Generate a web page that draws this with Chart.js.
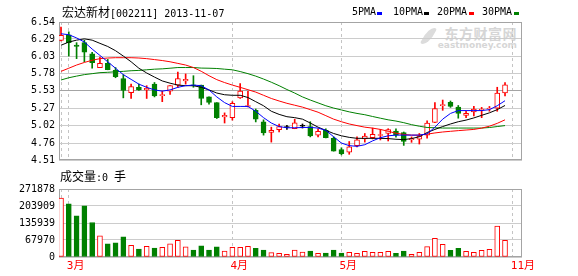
<!DOCTYPE html>
<html lang="zh">
<head>
<meta charset="UTF-8">
<title>宏达新材 日K</title>
<style>
  body {
    margin: 0;
    width: 578px;
    height: 276px;
    background: #fff;
    position: relative;
    overflow: hidden;
    font-family: "DejaVu Sans Mono", monospace;
    font-size: 10px;
    color: #000;
  }
  .cn { font-family: "Noto Sans CJK SC", sans-serif; font-size: 12px; }
  .txt { position: absolute; white-space: nowrap; line-height: 14px; }
  .sw { position: absolute; width: 5px; height: 3px; top: 12px; }
  #watermark { position: absolute; right: 61px; top: 25px; color: #d6d6d6; font-weight: bold; text-align: right; }
  #watermark .big { font-family: "Noto Sans CJK SC", sans-serif; font-size: 14px; line-height: 16px; letter-spacing: 0.5px; }
  #watermark .small { font-family: "DejaVu Sans", sans-serif; font-size: 9px; line-height: 9px; }
  #logo { position: absolute; left: 424px; top: 26px; width: 9px; height: 20px; background: #dcdcdc;
          border-radius: 90% 10% 90% 10%; transform: rotate(25deg); }
  canvas { position: absolute; left: 0; }
  #priceChart { top: 0; }
  #volChart { top: 170px; }
</style>
<script src="https://cdn.jsdelivr.net/npm/chart.js@4"></script>
</head>
<body>
<div id="logo"></div>
<div id="watermark"><div class="big">东方财富网</div><div class="small">eastmoney.com</div></div>
<canvas id="priceChart" width="578" height="170"></canvas>
<canvas id="volChart" width="578" height="106"></canvas>

<div class="txt" style="left:62px; top:5px;"><span class="cn">宏达新材</span>[002211] 2013-11-07</div>
<div class="txt" style="left:352px; top:5px;">5PMA</div><div class="sw" style="left:377px; background:#0000ff;"></div>
<div class="txt" style="left:393px; top:5px;">10PMA</div><div class="sw" style="left:424px; background:#000000;"></div>
<div class="txt" style="left:437px; top:5px;">20PMA</div><div class="sw" style="left:469px; background:#ff0000;"></div>
<div class="txt" style="left:482px; top:5px;">30PMA</div><div class="sw" style="left:514px; background:#008000;"></div>
<div class="txt" style="left:60px; top:169px;"><span class="cn">成交量</span>:0 <span class="cn">手</span></div>

<script>
// daily candles
const opens  = [6.268, 6.353, 6.202, 6.236, 6.072, 5.870, 5.931, 5.828, 5.706, 5.499,
                5.579, 5.541, 5.626, 5.458, 5.523, 5.612, 5.674, 5.610, 5.612, 5.438,
                5.354, 5.143, 5.133, 5.424, 5.297, 5.241, 5.073, 4.914, 4.956, 4.988,
                4.970, 5.007, 5.002, 4.876, 4.946, 4.829, 4.665, 4.627, 4.721, 4.820,
                4.840, 4.870, 4.900, 4.936, 4.914, 4.810, 4.815, 4.876, 5.063, 5.310,
                5.358, 5.288, 5.167, 5.218, 5.245, 5.260, 5.274, 5.495];
const highs  = [6.465, 6.395, 6.236, 6.273, 6.095, 6.025, 5.990, 5.870, 5.766, 5.626,
                5.626, 5.603, 5.650, 5.523, 5.603, 5.804, 5.776, 5.750, 5.612, 5.440,
                5.354, 5.203, 5.368, 5.635, 5.520, 5.260, 5.101, 4.993, 5.040, 5.020,
                5.110, 5.040, 5.073, 4.970, 4.970, 4.850, 4.690, 4.782, 4.850, 4.900,
                4.980, 4.960, 4.970, 4.970, 4.922, 4.850, 4.900, 5.087, 5.354, 5.392,
                5.378, 5.312, 5.227, 5.298, 5.284, 5.298, 5.580, 5.650];
const lows   = [6.260, 6.039, 6.001, 5.955, 5.860, 5.870, 5.837, 5.720, 5.424, 5.415,
                5.535, 5.415, 5.438, 5.368, 5.476, 5.579, 5.626, 5.580, 5.322, 5.330,
                5.120, 5.054, 5.097, 5.415, 5.290, 5.070, 4.876, 4.773, 4.922, 4.960,
                4.970, 4.980, 4.850, 4.850, 4.835, 4.640, 4.585, 4.594, 4.703, 4.773,
                4.820, 4.805, 4.790, 4.845, 4.725, 4.770, 4.745, 4.830, 5.060, 5.241,
                5.284, 5.125, 5.133, 5.157, 5.133, 5.227, 5.227, 5.453];
const closes = [6.343, 6.236, 6.180, 6.095, 5.940, 5.931, 5.837, 5.734, 5.533, 5.589,
                5.541, 5.565, 5.453, 5.470, 5.603, 5.706, 5.696, 5.600, 5.415, 5.358,
                5.133, 5.167, 5.344, 5.523, 5.310, 5.110, 4.908, 4.946, 5.002, 4.988,
                5.055, 5.007, 4.866, 4.932, 4.838, 4.640, 4.604, 4.703, 4.806, 4.862,
                4.886, 4.876, 4.956, 4.876, 4.782, 4.815, 4.862, 5.054, 5.265, 5.315,
                5.298, 5.195, 5.195, 5.260, 5.250, 5.265, 5.494, 5.617];

// moving averages as drawn
const ma5  = [6.367, 6.353, 6.306, 6.245, 6.142, 6.048, 5.955, 5.860, 5.766, 5.696,
              5.626, 5.579, 5.541, 5.523, 5.541, 5.579, 5.603, 5.612, 5.603, 5.540,
              5.438, 5.354, 5.298, 5.298, 5.298, 5.227, 5.133, 5.054, 5.002, 4.984,
              4.984, 4.988, 4.990, 4.979, 4.946, 4.852, 4.759, 4.721, 4.711, 4.735,
              4.791, 4.838, 4.866, 4.876, 4.876, 4.876, 4.876, 4.894, 4.993, 5.111,
              5.195, 5.237, 5.237, 5.237, 5.237, 5.251, 5.308, 5.382];
const ma10 = [6.198, 6.245, 6.273, 6.292, 6.273, 6.226, 6.180, 6.118, 6.039, 5.955,
              5.860, 5.790, 5.730, 5.673, 5.640, 5.612, 5.603, 5.603, 5.579, 5.541,
              5.495, 5.470, 5.462, 5.462, 5.429, 5.368, 5.308, 5.227, 5.181, 5.147,
              5.133, 5.111, 5.054, 4.993, 4.946, 4.900, 4.866, 4.843, 4.829, 4.829,
              4.829, 4.829, 4.825, 4.815, 4.810, 4.825, 4.852, 4.914, 4.960, 5.002,
              5.040, 5.073, 5.097, 5.129, 5.167, 5.204, 5.251, 5.312];
const ma20 = [5.814, 5.860, 5.907, 5.945, 5.977, 6.001, 6.010, 6.015, 6.015, 6.015,
              6.010, 6.001, 5.987, 5.973, 5.955, 5.931, 5.907, 5.870, 5.815, 5.750,
              5.692, 5.649, 5.612, 5.579, 5.544, 5.509, 5.462, 5.415, 5.378, 5.344,
              5.316, 5.288, 5.251, 5.213, 5.162, 5.111, 5.073, 5.040, 5.016, 4.993,
              4.979, 4.960, 4.932, 4.904, 4.886, 4.876, 4.876, 4.890, 4.908, 4.922,
              4.932, 4.942, 4.951, 4.960, 4.979, 5.007, 5.049, 5.101];
const ma30 = [5.687, 5.720, 5.744, 5.766, 5.780, 5.795, 5.800, 5.808, 5.814, 5.823,
              5.828, 5.837, 5.846, 5.851, 5.860, 5.870, 5.870, 5.870, 5.862, 5.860,
              5.856, 5.846, 5.837, 5.811, 5.780, 5.744, 5.701, 5.654, 5.603, 5.547,
              5.495, 5.438, 5.392, 5.350, 5.308, 5.274, 5.246, 5.218, 5.195, 5.176,
              5.150, 5.125, 5.101, 5.083, 5.059, 5.030, 5.007, 4.988, 4.984, 4.980,
              4.980, 4.980, 4.980, 4.980, 4.980, 4.988, 5.002, 5.016];

const volumes = [235700, 212800, 164700, 204800, 137800, 84300, 52200, 56200, 80300, 46900,
                 32100, 42800, 36100, 38800, 52200, 67000, 40200, 28100, 44200, 28100,
                 40200, 24100, 38800, 38800, 42800, 34800, 28100, 17400, 14700, 10700,
                 28100, 20100, 24100, 14700, 16100, 28100, 16100, 18700, 14700, 22800,
                 18700, 18700, 22800, 14700, 24100, 10700, 18700, 41400, 75100, 51000,
                 26900, 34800, 22800, 18700, 26900, 30900, 123300, 67000];

const priceTicks  = [4.51, 4.76, 5.02, 5.27, 5.53, 5.78, 6.03, 6.29, 6.54];
const volumeTicks = [0, 67970, 135939, 203909, 271878];
const monthTicks  = [1, 22, 36, 58];
const monthLabels = ['3月', '4月', '5月', '11月'];
const gridMarks   = [0].concat(monthTicks);

const UP = '#ff0000', DOWN = '#008000', FLAT = '#000000';
const idx = closes.map((c, i) => i);
const colorOf = i => closes[i] > opens[i] ? UP : (closes[i] < opens[i] ? DOWN : FLAT);

const X_MIN = -0.257, X_MAX = 59.18;
const monoFont = { family: 'DejaVu Sans Mono', size: 10 };

const framePlugin = {
  id: 'frame',
  beforeDatasetsDraw(chart) {
    const a = chart.chartArea, ctx = chart.ctx;
    ctx.save();
    ctx.strokeStyle = '#a4a4a4';
    ctx.lineWidth = 1;
    ctx.strokeRect(Math.round(a.left) + 0.5, Math.round(a.top) + 0.5,
                   Math.round(a.right - a.left) - 1, Math.round(a.bottom - a.top) - 1);
    ctx.restore();
  }
};

function xAxis(showLabels) {
  return {
    type: 'linear',
    min: X_MIN,
    max: X_MAX,
    offset: false,
    afterBuildTicks: s => { s.ticks = gridMarks.map(v => ({ value: v })); },
    afterFit: s => { s.height = showLabels ? 19 : 0; },
    grid: { color: '#c4c4c4', drawTicks: false, offset: false },
    border: { display: false, dash: [3, 3] },
    ticks: {
      display: showLabels,
      autoSkip: false,
      minRotation: 0,
      maxRotation: 0,
      align: 'start',
      labelOffset: -2,
      padding: 3,
      color: UP,
      font: { family: 'DejaVu Sans Mono, Noto Sans CJK SC', size: 11 },
      callback: v => {
        const k = monthTicks.indexOf(v);
        return k >= 0 ? monthLabels[k] : '';
      }
    }
  };
}

const maLine = (vals, color) => ({
  type: 'line',
  data: idx.map(i => ({ x: i, y: vals[i] })),
  borderColor: color,
  borderWidth: 1,
  pointRadius: 0,
  tension: 0,
  order: 0
});

new Chart(document.getElementById('priceChart'), {
  type: 'bar',
  data: {
    datasets: [
      maLine(ma5, '#0000ff'),
      maLine(ma10, '#000000'),
      maLine(ma20, '#ff0000'),
      maLine(ma30, '#008000'),
      {
        // bodies
        data: idx.map(i => ({ x: i, y: [opens[i], closes[i]] })),
        backgroundColor: idx.map(i => closes[i] > opens[i] ? '#ffffff' : colorOf(i)),
        borderColor: idx.map(colorOf),
        borderWidth: 1,
        borderSkipped: false,
        barThickness: 5,
        minBarLength: 1,
        grouped: false,
        order: 1
      },
      {
        // wicks
        data: idx.map(i => ({ x: i, y: [lows[i], highs[i]] })),
        backgroundColor: idx.map(colorOf),
        borderWidth: 0,
        barThickness: 1,
        grouped: false,
        order: 2
      }
    ]
  },
  options: {
    responsive: false,
    animation: false,
    layout: { padding: { top: 22, right: 56, bottom: 4, left: 0 } },
    plugins: { legend: { display: false }, tooltip: { enabled: false } },
    scales: {
      x: xAxis(false),
      y: {
        min: priceTicks[0],
        max: priceTicks[priceTicks.length - 1],
        afterBuildTicks: s => { s.ticks = priceTicks.map(v => ({ value: v })); },
        afterFit: s => { s.width = 59; },
        grid: {
          drawTicks: false,
          color: c => (c.tick && c.tick.value === 5.53) ? '#a4a4a4' : '#cccccc'
        },
        border: { display: false },
        ticks: { padding: 4, color: '#000', font: monoFont, callback: v => v.toFixed(2) }
      }
    }
  },
  plugins: [framePlugin]
});

new Chart(document.getElementById('volChart'), {
  type: 'bar',
  data: {
    datasets: [{
      data: idx.map(i => ({ x: i, y: volumes[i] })),
      backgroundColor: idx.map(i => closes[i] >= opens[i] ? '#ffffff' : DOWN),
      borderColor: idx.map(i => closes[i] >= opens[i] ? UP : DOWN),
      borderWidth: 1,
      borderSkipped: false,
      barThickness: 5
    }]
  },
  options: {
    responsive: false,
    animation: false,
    layout: { padding: { top: 19, right: 56, bottom: 0, left: 0 } },
    plugins: { legend: { display: false }, tooltip: { enabled: false } },
    scales: {
      x: xAxis(true),
      y: {
        min: 0,
        max: volumeTicks[volumeTicks.length - 1],
        afterBuildTicks: s => { s.ticks = volumeTicks.map(v => ({ value: v })); },
        afterFit: s => { s.width = 59; },
        grid: { drawTicks: false, color: '#cccccc' },
        border: { display: false },
        ticks: { padding: 4, color: '#000', font: monoFont, callback: v => String(v) }
      }
    }
  },
  plugins: [framePlugin]
});
</script>
</body>
</html>
